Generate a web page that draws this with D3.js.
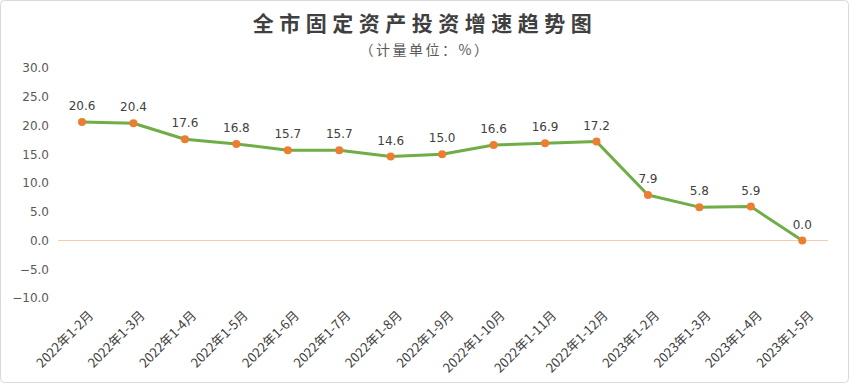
<!DOCTYPE html>
<html><head><meta charset="utf-8">
<script src="https://cdn.jsdelivr.net/npm/d3@7"></script>
<style>body{margin:0;background:#fff}svg{display:block}</style>
</head><body>
<script>
const categories = ["2022年1-2月","2022年1-3月","2022年1-4月","2022年1-5月","2022年1-6月","2022年1-7月","2022年1-8月","2022年1-9月","2022年1-10月","2022年1-11月","2022年1-12月","2023年1-2月","2023年1-3月","2023年1-4月","2023年1-5月"];
const values = [20.6,20.4,17.6,16.8,15.7,15.7,14.6,15.0,16.6,16.9,17.2,7.9,5.8,5.9,0.0];
const yTicks = [-10,-5,0,5,10,15,20,25,30];
const title = "全市固定资产投资增速趋势图";
const subtitle = "（计量单位：%）";

const W = 849, H = 383;
const svg = d3.select("body").append("svg").attr("width", W).attr("height", H);
svg.append("rect").attr("x",0.5).attr("y",0.5).attr("width",W-1).attr("height",H-1)
  .attr("rx",4).attr("fill","#fff").attr("stroke","#d9d9d9");

const x = d3.scaleBand().domain(categories).range([56.3, 828]);
const y = d3.scaleLinear().domain([-10,30]).range([298,68]);

svg.append("text").attr("x",425).attr("y",31).attr("text-anchor","middle")
  .attr("font-family","Noto Sans CJK SC").attr("font-weight","bold").attr("font-size",21)
  .attr("letter-spacing",5.5).attr("fill","#404040").text(title);
svg.append("text").attr("x",425).attr("y",55).attr("text-anchor","middle")
  .attr("font-family","Noto Sans CJK SC").attr("font-size",14)
  .attr("letter-spacing",2.5).attr("fill","#595959").text(subtitle);

// y axis
const yAxis = d3.axisLeft(y).tickValues(yTicks).tickFormat(d3.format(".1f")).tickSize(0).tickPadding(8);
const gy = svg.append("g").attr("transform","translate(57,0)").call(yAxis);
gy.select(".domain").remove();
gy.selectAll("text").attr("font-family","DejaVu Sans").attr("font-size",12).attr("fill","#595959");

// zero line
svg.append("line").attr("x1",58).attr("x2",828).attr("y1",y(0)).attr("y2",y(0))
  .attr("stroke","#F8CBAD").attr("stroke-width",1);

// x axis labels
const xAxis = d3.axisBottom(x).tickSize(0).tickPadding(0);
const gx = svg.append("g").attr("transform","translate(0,306)").call(xAxis);
gx.select(".domain").remove();
gx.selectAll("text").attr("font-family","Noto Sans CJK SC").attr("font-size",13).attr("fill","#404040")
  .attr("text-anchor","end").attr("dy","0.35em")
  .attr("transform","translate(9,7) rotate(-45)");

// line
const cx = d => x(d) + x.bandwidth()/2;
const pts = categories.map((c,i)=>[cx(c), y(values[i])]);
svg.append("path").attr("d", d3.line()(pts)).attr("fill","none")
  .attr("stroke","#70AD47").attr("stroke-width",3).attr("stroke-linejoin","round");
svg.selectAll("circle.m").data(categories).enter().append("circle")
  .attr("cx",d=>cx(d)).attr("cy",(d,i)=>y(values[i])).attr("r",4).attr("fill","#ED7D31");
svg.selectAll("text.lbl").data(categories).enter().append("text")
  .attr("x",d=>cx(d)).attr("y",(d,i)=>y(values[i])-12).attr("text-anchor","middle")
  .attr("font-family","DejaVu Sans").attr("font-size",12).attr("fill","#404040")
  .text((d,i)=>values[i].toFixed(1));
</script>
</body></html>
